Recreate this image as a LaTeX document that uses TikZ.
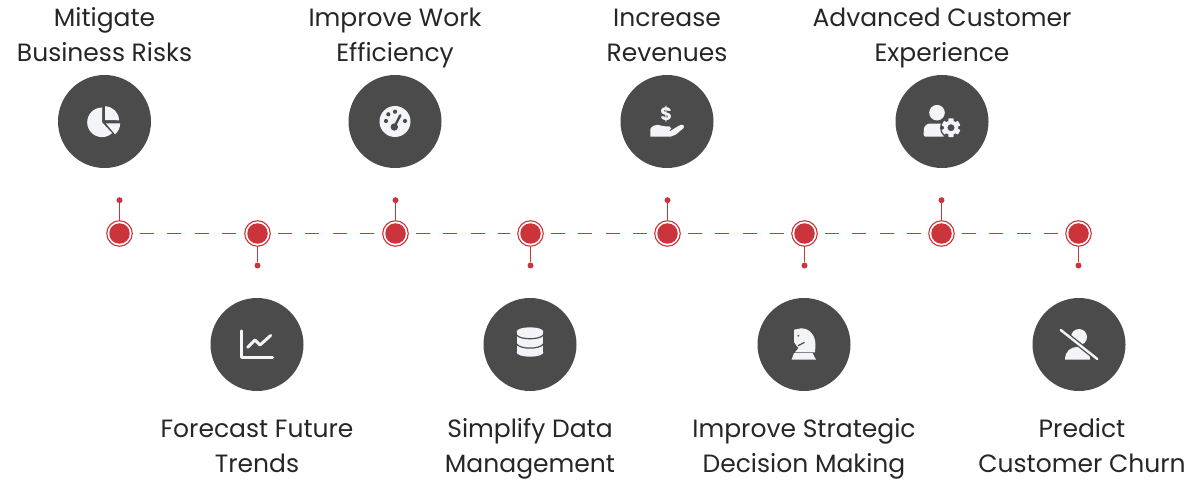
\documentclass[tikz,border=0pt]{standalone}
\usepackage{fontspec}
\setmainfont{Poppins}
\definecolor{redm}{HTML}{CC343C}
\definecolor{darkc}{HTML}{4B4B4B}
\definecolor{iconc}{HTML}{F3F4F8}
\definecolor{textc}{HTML}{262626}
\newcommand{\lstrut}{\rule[-9pt]{0pt}{35pt}}
\tikzset{
 x=1pt,y=-1pt,
 bigc/.style={circle,fill=darkc,minimum size=93pt,inner sep=0pt},
 ring/.style={circle,draw=redm,line width=1.1pt,fill=white,minimum size=25.5pt,inner sep=0pt},
 core/.style={circle,fill=redm,minimum size=20.5pt,inner sep=0pt},
 dotn/.style={circle,fill=redm,minimum size=6pt,inner sep=0pt},
 stem/.style={draw=redm,line width=1.2pt},
 dashl/.style={draw=redm,line width=1.3pt,dash pattern=on 13.7pt off 13.8pt,shorten >=7pt,shorten <=7pt},
 lab/.style={align=center,text=textc,font=\fontsize{25}{35}\selectfont,inner sep=0pt},
 icl/.style={draw=iconc,line cap=round,line join=round},
}
\begin{document}
\begin{tikzpicture}
\useasboundingbox (0,0) rectangle (1191,481);
% timeline nodes
\foreach \n/\x in {1/119.5,2/257.5,3/395.5,4/530.5,5/667.5,6/804.5,7/941.5,8/1078.5}{
  \node[ring] (r\n) at (\x,233.5) {};
}
\foreach \a/\b in {1/2,2/3,3/4,4/5,5/6,6/7,7/8}{
  \draw[dashl] (r\a.east) -- (r\b.west);
}
\foreach \n/\x in {1/119.5,3/395.5,5/667.5,7/941.5}{
  \node[dotn] (d\n) at (\x,200.2) {};
  \draw[stem] (d\n) -- (r\n);
}
\foreach \n/\x in {2/257.5,4/530.5,6/804.5,8/1078.5}{
  \node[dotn] (d\n) at (\x,265.5) {};
  \draw[stem] (d\n) -- (r\n);
}
\foreach \n in {1,...,8}{ \node[core] (c\n) at (r\n) {}; }
% big circles
\node[bigc] (b1) at (104.5,121.5) {};
\node[bigc] (b2) at (257,344.5) {};
\node[bigc] (b3) at (395,121.5) {};
\node[bigc] (b4) at (530,344.5) {};
\node[bigc] (b5) at (667,121.5) {};
\node[bigc] (b6) at (804,344.5) {};
\node[bigc] (b7) at (942,121.5) {};
\node[bigc] (b8) at (1079,344.5) {};
% labels
\node[lab] (t1) at (104.5,35.6) {\lstrut Mitigate\\\lstrut Business Risks};
\node[lab] (t3) at (395,35.6) {\lstrut Improve Work\\\lstrut Efficiency};
\node[lab] (t5) at (667,35.6) {\lstrut Increase\\\lstrut Revenues};
\node[lab] (t7) at (942,35.6) {\lstrut Advanced Customer\\\lstrut Experience};
\node[lab] (t2) at (257,446) {\lstrut Forecast Future\\\lstrut Trends};
\node[lab] (t4) at (530,446) {\lstrut Simplify Data\\\lstrut Management};
\node[lab] (t6) at (804,446) {\lstrut Improve Strategic\\\lstrut Decision Making};
\node[lab] (t8) at (1082,446) {\lstrut Predict\\\lstrut Customer Churn};
% pie icon
\fill[iconc] (102,122.3) -- (102,107.5) arc[start angle=-90,end angle=-313,radius=14.8] -- cycle;
\fill[iconc] (105,120) -- (105,106.3) arc[start angle=-90,end angle=0,radius=14] -- cycle;
\fill[iconc] (105.8,123.3) -- (120.2,123.3) arc[start angle=0,end angle=50,radius=14.4] -- cycle;
% gauge icon
\fill[iconc] (395,121.5) circle[radius=15.5];
\foreach \p in {(388.3,114.3),(395,111.7),(405,121),(386,121)}{\fill[darkc] \p circle[radius=2.1];}
\fill[darkc] (394.3,127) circle[radius=3.7];
\draw[darkc,line width=2.4pt,line cap=round] (394.3,127) -- (400.3,115.3);
% hand icon
\node[font=\bfseries\fontsize{18}{18}\selectfont,text=iconc,inner sep=0pt] (dollar) at (666.2,114.3) {\$};
\fill[iconc] (650.3,136.7) -- (650.3,129) .. controls (652,126) and (655,124.8) .. (657.5,124.8) .. controls (660,124.8) and (661,126.2) .. (663.7,126.2) -- (669.5,126.5) .. controls (671.8,127) and (672,130) .. (669.5,130.5) -- (664,131) -- (670.3,131) -- (678.7,125.8) -- (682,124.6) .. controls (684.4,124.6) and (684.6,127) .. (683.4,128.2) -- (675.8,134.6) -- (670.6,136.7) -- cycle;
% user-gear icon
\fill[iconc] (937,112.7) circle[radius=7.8];
\fill[iconc,rounded corners=2pt] (923.7,136.7) -- (923.7,131) .. controls (924,126.5) and (927,123.7) .. (931,123.7) -- (945,123.7) -- (945,136.7) -- cycle;
\fill[darkc] (951,127.7) circle[radius=11];
\begin{scope}[shift={(951,127.7)}]
\foreach \a in {0,60,...,300}{\fill[iconc,rotate=\a,rounded corners=0.6pt] (-2.6,-9.4) rectangle (2.6,-5);}
\fill[iconc,even odd rule] circle[radius=7.2] circle[radius=3.6];
\end{scope}
% chart icon
\draw[icl,line width=3.2pt] (241.7,331) -- (241.7,357.7) -- (272.5,357.7);
\draw[icl,line width=3pt] (247.7,347.3) -- (255,340) -- (260,345) -- (270.7,335.5);
% database icon
\fill[iconc] (516.7,331.5) rectangle (543.3,352.5);
\fill[iconc] (530,331.5) ellipse[x radius=13.3,y radius=4.2];
\fill[iconc] (530,352.5) ellipse[x radius=13.3,y radius=4.2];
\draw[darkc,line width=1.2pt] (516.7,335) .. controls (520,340) and (540,340) .. (543.3,335);
\draw[darkc,line width=1.2pt] (516.7,344) .. controls (520,349.5) and (540,349.5) .. (543.3,344);
% knight icon
\fill[iconc] (794,329.7) -- (801,328.3) .. controls (811,328.3) and (815.5,337) .. (815.5,345) -- (815,352.3) -- (795,352.3) -- (798.5,348) -- (797,346.5) -- (794,342) -- cycle;
\fill[iconc] (794,353.2) -- (812.6,353.2) -- (816,359.7) -- (791.5,359.7) -- cycle;
\fill[darkc] (798.3,335.8) circle[radius=1];
\draw[darkc,line width=1.2pt] (798,345.8) -- (804.5,342.3);
% user-slash icon
\fill[iconc] (1079,337) circle[radius=8];
\fill[iconc] (1065,359.7) .. controls (1065,351) and (1071,347) .. (1077,347) .. controls (1085,347) and (1090,351) .. (1090,359.7) -- cycle;
\draw[darkc,line width=5pt] (1059,328.6) -- (1099,360.4);
\draw[iconc,line width=2.4pt,line cap=round] (1060.7,330) -- (1097.3,359);
\end{tikzpicture}
\end{document}
